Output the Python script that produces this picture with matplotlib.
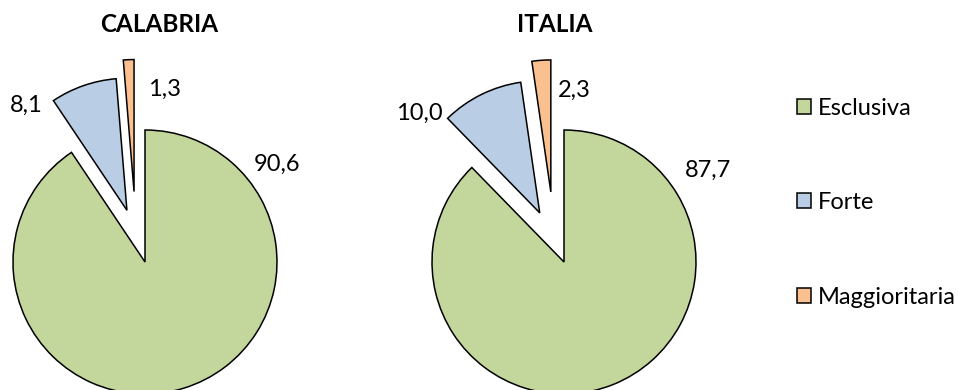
import math
import matplotlib.pyplot as plt

# Quote per tipologia di maggioranza (%)
categorie = ['Esclusiva', 'Forte', 'Maggioritaria']
calabria = [90.6, 8.1, 1.3]
italia = [87.7, 10.0, 2.3]
colori = ['#C3D69B', '#B9CDE5', '#FAC090']

R = 132  # raggio delle torte in pixel
stacco = [0.0, 0.415, 0.54]   # distanza di esplosione, frazione del raggio
deviazione = [0.0, 0.0, 6.5]  # rotazione della direzione di esplosione (gradi)

fig = plt.figure(figsize=(9.58, 3.9), dpi=100)
ax = fig.add_axes([0, 0, 1, 1])

def torta(valori, cx, cy):
    w, _ = ax.pie(valori, colors=colori, startangle=90, counterclock=False,
                  radius=R, center=(cx, cy),
                  wedgeprops={'edgecolor': 'black', 'linewidth': 1.1})
    # stacca le fette piccole dal centro
    for fetta, s, d in zip(w, stacco, deviazione):
        a = math.radians((fetta.theta1 + fetta.theta2) / 2 + d)
        fetta.set_center((cx + s * R * math.cos(a), cy + s * R * math.sin(a)))
    return w

def fmt(v):
    return f'{v:.1f}'.replace('.', ',')

fette = torta(calabria, 145, 128)
torta(italia, 564, 128)

ax.set_xlim(0, 958)
ax.set_ylim(0, 390)
ax.set_aspect('equal')
ax.axis('off')

font = 'Lato'
ax.text(159, 365, 'CALABRIA', ha='center', va='center', fontsize=17.5,
        fontweight='bold', family=font)
ax.text(555, 365, 'ITALIA', ha='center', va='center', fontsize=17.5,
        fontweight='bold', family=font)

# etichette dei valori
pos_cal = [(277, 226), (26, 285), (165, 301)]
pos_ita = [(708, 220), (419, 277), (574, 300)]
for v, (x, y) in zip(calabria, pos_cal):
    ax.text(x, y, fmt(v), ha='center', va='center', fontsize=17, family=font)
for v, (x, y) in zip(italia, pos_ita):
    ax.text(x, y, fmt(v), ha='center', va='center', fontsize=17, family=font)

fig.legend(fette, categorie, loc='center left', bbox_to_anchor=(797 / 958, 0.48),
           frameon=False, borderpad=0, borderaxespad=0, handlelength=0.6,
           handleheight=0.6, handletextpad=0.3, labelspacing=3.12,
           prop={'family': font, 'size': 17})

fig.savefig('out.png', dpi=100)
